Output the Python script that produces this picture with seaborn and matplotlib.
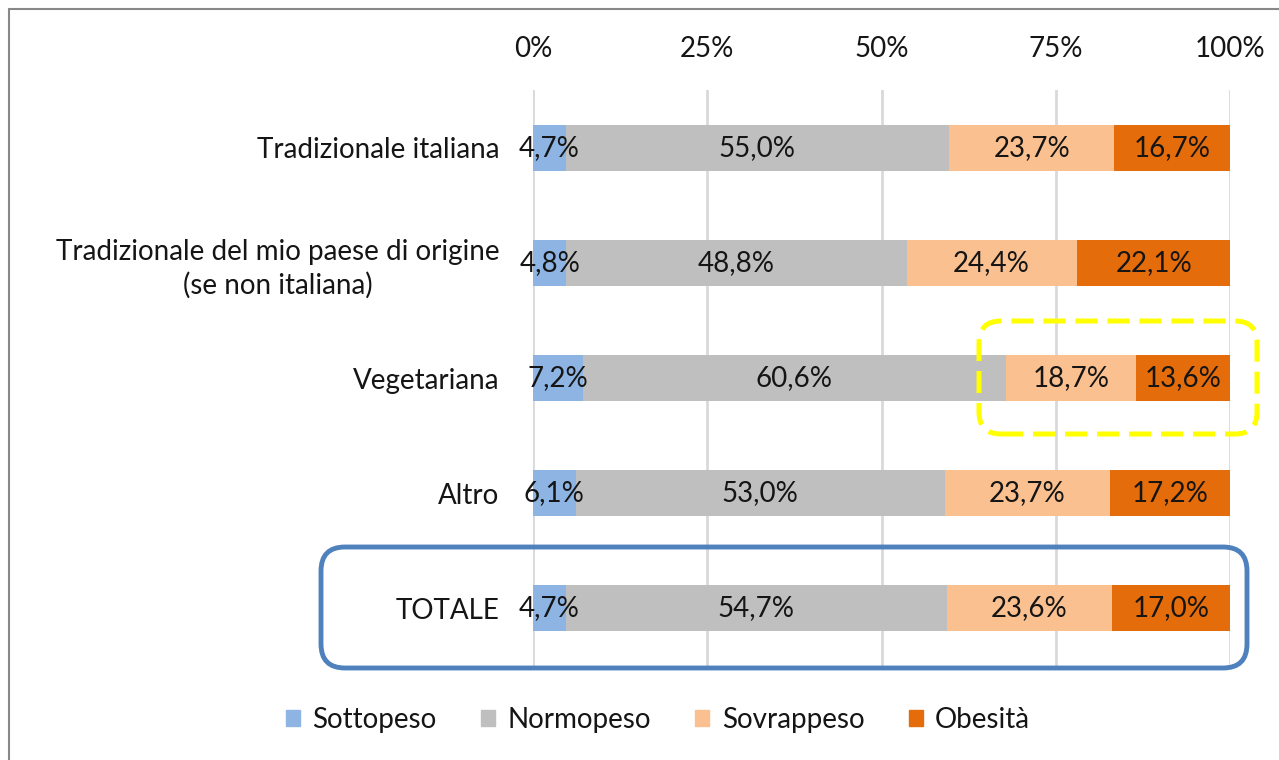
import matplotlib
matplotlib.use("Agg")
import matplotlib.pyplot as plt
import seaborn as sns
import pandas as pd
import numpy as np
from matplotlib.patches import FancyBboxPatch
from matplotlib.lines import Line2D
from matplotlib.transforms import IdentityTransform

categories = ["Tradizionale italiana",
              "Tradizionale del mio paese di origine\n(se non italiana)",
              "Vegetariana", "Altro", "TOTALE"]
series = ["Sottopeso", "Normopeso", "Sovrappeso", "Obesità"]
sottopeso = [4.7, 4.8, 7.2, 6.1, 4.7]
normopeso = [55.0, 48.8, 60.6, 53.0, 54.7]
sovrappeso = [23.7, 24.4, 18.7, 23.7, 23.6]
obesita = [16.7, 22.1, 13.6, 17.2, 17.0]
tick_values = [0, 25, 50, 75, 100]
tick_labels = ["0%", "25%", "50%", "75%", "100%"]
colors = ["#8EB4E3", "#BFBFBF", "#FAC090", "#E46C0A"]

sns.set_theme(style="white")
plt.rcParams["font.family"] = ["Lato", "DejaVu Sans"]
FS = 20

W, H = 1279, 760
fig = plt.figure(figsize=(W / 100, H / 100), dpi=100)
ax = fig.add_axes([533 / W, 1 - 666 / H, (1230 - 533) / W, (666 - 90) / H])

vals = np.array([sottopeso, normopeso, sovrappeso, obesita])
cum = np.cumsum(vals, axis=0)

# stacked bars: draw largest cumulative first
for i in range(len(series) - 1, -1, -1):
    df = pd.DataFrame({"cat": categories, "val": cum[i]})
    sns.barplot(data=df, x="val", y="cat", orient="h", color=colors[i],
                width=0.4, saturation=1, ax=ax, linewidth=0)

starts = cum - vals
for i in range(len(series)):
    for j in range(len(categories)):
        cx = starts[i, j] + vals[i, j] / 2
        ax.text(cx, j, f"{vals[i, j]:.1f}%".replace(".", ","), ha="center", va="center",
                fontsize=FS, color="#151515", zorder=5)

ax.set_xlim(0, 100)
ax.set_ylim(len(categories) - 0.5, -0.5)
ax.set_xticks(tick_values)
ax.set_xticklabels(tick_labels)
ax.xaxis.tick_top()
ax.tick_params(axis="x", length=0, pad=20, labelsize=FS, labelcolor="#151515")
ax.tick_params(axis="y", length=0, pad=24, labelsize=FS, labelcolor="#151515")
for lbl in ax.get_yticklabels():
    lbl.set_multialignment("center")
    lbl.set_linespacing(1.3)
ax.set_xlabel("")
ax.set_ylabel("")
ax.grid(axis="x", color="#D9D9D9", linewidth=2)
ax.set_axisbelow(True)
for s in ax.spines.values():
    s.set_visible(False)

handles = [plt.Rectangle((0, 0), 1, 1, color=c) for c in colors]
fig.legend(handles, series, loc="center", bbox_to_anchor=(658 / W, 1 - 720 / H),
           ncol=4, frameon=False, fontsize=FS, handlelength=0.5, handleheight=0.5,
           handletextpad=0.45, columnspacing=1.6, labelcolor="#151515")

# decorative annotation boxes (pixel coords, origin bottom-left)
def pbox(x0, y0, x1, y1, r, **kw):
    p = FancyBboxPatch((x0 + r, H - y1 + r), (x1 - x0) - 2 * r, (y1 - y0) - 2 * r,
                       boxstyle=f"round,pad={r}", transform=IdentityTransform(),
                       fill=False, **kw)
    fig.add_artist(p)

pbox(979, 321, 1257, 434, 22, edgecolor="#FFFF00", linewidth=3.6, linestyle=(0, (4.4, 2.0)))
pbox(321, 547, 1247, 668, 24, edgecolor="#4F81BD", linewidth=3.5)

# frame lines at left and top
fig.add_artist(Line2D([8.5 / W, 8.5 / W], [0, 1 - 9 / H], transform=fig.transFigure,
                      color="#888888", linewidth=1.5))
fig.add_artist(Line2D([8.5 / W, 1], [1 - 9 / H, 1 - 9 / H], transform=fig.transFigure,
                      color="#888888", linewidth=1.5))

fig.savefig("out.png", dpi=100)
